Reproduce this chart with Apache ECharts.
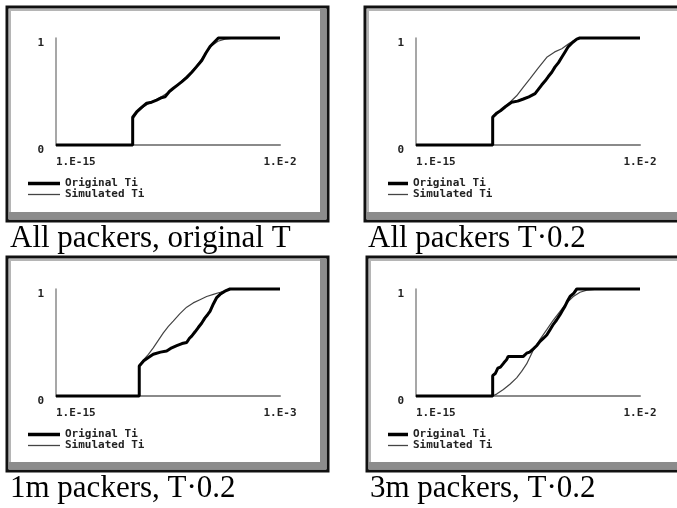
<!DOCTYPE html>
<html>
<head>
<meta charset="utf-8">
<script src="https://cdn.jsdelivr.net/npm/echarts@6/dist/echarts.min.js"></script>
<style>
  html, body { margin: 0; padding: 0; background: #fff; }
  #chart { width: 677px; height: 508px; }
</style>
</head>
<body>
<div id="chart"></div>
<script>
// x values are log10(T), y is the cumulative fraction
const captions = ['All packers, original T', 'All packers T\u00b70.2', '1m packers, T\u00b70.2', '3m packers, T\u00b70.2'];
const xMin = [-15, -15, -15, -15];
const xMax = [-2, -2, -3, -2];
const yTicks = [0, 1];

const allOrigTOriginal = [[-15,0],[-10.55,0],[-10.55,0.26],[-10.32,0.31],[-10.05,0.35],[-9.74,0.39],[-9.45,0.40],[-9.16,0.42],[-8.9,0.44],[-8.67,0.45],[-8.42,0.50],[-8.19,0.53],[-7.95,0.56],[-7.71,0.59],[-7.42,0.63],[-7.12,0.68],[-6.85,0.73],[-6.54,0.79],[-6.3,0.86],[-6.06,0.92],[-5.82,0.96],[-5.58,1],[-2,1]];
const allOrigTSimulated = [[-15,0],[-10.55,0],[-10.55,0.24],[-10.25,0.31],[-9.9,0.36],[-9.5,0.40],[-9.1,0.43],[-8.7,0.47],[-8.3,0.51],[-7.9,0.57],[-7.5,0.63],[-7.1,0.69],[-6.7,0.77],[-6.3,0.86],[-5.95,0.93],[-5.6,0.97],[-5.2,0.99],[-4.6,1],[-2,1]];

const allT02Original = [[-15,0],[-10.55,0],[-10.55,0.26],[-10.3,0.30],[-10.1,0.32],[-9.8,0.36],[-9.45,0.40],[-9.1,0.41],[-8.77,0.43],[-8.45,0.45],[-8.09,0.48],[-7.9,0.52],[-7.71,0.56],[-7.5,0.60],[-7.32,0.64],[-7.12,0.68],[-6.93,0.73],[-6.73,0.77],[-6.54,0.82],[-6.35,0.87],[-6.16,0.92],[-5.9,0.96],[-5.67,0.99],[-5.5,1],[-2,1]];
const allT02Simulated = [[-15,0],[-10.55,0],[-10.55,0.26],[-10.1,0.32],[-9.55,0.40],[-9.16,0.46],[-8.77,0.54],[-8.38,0.62],[-7.9,0.72],[-7.41,0.82],[-6.95,0.87],[-6.54,0.90],[-6.1,0.95],[-5.77,0.98],[-5.5,1],[-2,1]];

const m1T02Original = [[-15,0],[-10.54,0],[-10.54,0.28],[-10.3,0.33],[-10.05,0.36],[-9.79,0.39],[-9.4,0.41],[-9.07,0.42],[-8.8,0.45],[-8.53,0.47],[-8.25,0.49],[-8.0,0.50],[-7.85,0.54],[-7.73,0.56],[-7.55,0.60],[-7.38,0.64],[-7.2,0.68],[-7.02,0.73],[-6.88,0.76],[-6.75,0.79],[-6.57,0.86],[-6.39,0.92],[-6.21,0.95],[-5.95,0.98],[-5.68,1],[-3,1]];
const m1T02Simulated = [[-15,0],[-10.54,0],[-10.54,0.28],[-10.3,0.34],[-10.05,0.39],[-9.79,0.45],[-9.52,0.52],[-9.25,0.59],[-8.98,0.65],[-8.72,0.70],[-8.36,0.77],[-8.0,0.83],[-7.65,0.87],[-7.29,0.90],[-6.93,0.93],[-6.57,0.95],[-6.2,0.97],[-5.86,0.99],[-5.5,1],[-3,1]];

const m3T02Original = [[-15,0],[-10.55,0],[-10.55,0.19],[-10.4,0.21],[-10.25,0.26],[-10.1,0.27],[-9.9,0.31],[-9.74,0.34],[-9.65,0.37],[-8.77,0.37],[-8.58,0.40],[-8.4,0.41],[-8.19,0.44],[-8.0,0.47],[-7.8,0.51],[-7.6,0.54],[-7.41,0.57],[-7.22,0.62],[-7.03,0.67],[-6.84,0.71],[-6.64,0.76],[-6.5,0.80],[-6.35,0.84],[-6.2,0.89],[-6.06,0.93],[-5.85,0.96],[-5.67,1],[-2,1]];
const m3T02Simulated = [[-15,0],[-10.55,0],[-10.3,0.02],[-9.93,0.06],[-9.55,0.11],[-9.16,0.17],[-8.87,0.23],[-8.58,0.30],[-8.19,0.43],[-7.8,0.53],[-7.41,0.62],[-7.03,0.71],[-6.64,0.79],[-6.25,0.87],[-5.87,0.93],[-5.48,0.97],[-5.09,0.99],[-4.32,1],[-2,1]];

const originals = [allOrigTOriginal, allT02Original, m1T02Original, m3T02Original];
const simulateds = [allOrigTSimulated, allT02Simulated, m1T02Simulated, m3T02Simulated];

// layout of the four panels (right ones run off the page edge)
const panels = [
  { fx: 7,   fy: 7,   fw: 321, fh: 214, gx: 56,  gy: 38,  lx: 28,  lw: 32 },
  { fx: 365, fy: 7,   fw: 400, fh: 214, gx: 416, gy: 38,  lx: 388, lw: 20 },
  { fx: 7,   fy: 257, fw: 321, fh: 214, gx: 56,  gy: 289, lx: 28,  lw: 32 },
  { fx: 367, fy: 257, fw: 400, fh: 214, gx: 416, gy: 289, lx: 388, lw: 20 }
];

const smallFont = {
  fontFamily: 'DejaVu Sans Mono',
  fontWeight: 'bold',
  fontSize: 11,
  color: '#222'
};

const grid = [], xAxis = [], yAxis = [], series = [], legend = [], graphic = [];

panels.forEach((p, i) => {
  grid.push({ left: p.gx, top: p.gy, width: 224, height: 107 });
  xAxis.push({
    type: 'value',
    gridIndex: i,
    min: xMin[i],
    max: xMax[i],
    splitLine: { show: false },
    axisTick: { show: false },
    axisLine: { lineStyle: { color: '#8a8a8a', width: 2 } },
    axisLabel: Object.assign({
      customValues: [xMin[i], xMax[i]],
      margin: 12,
      alignMinLabel: 'left',
      alignMaxLabel: 'center',
      formatter: v => '1.E' + v
    }, smallFont)
  });
  yAxis.push({
    type: 'value',
    gridIndex: i,
    min: 0,
    max: 1,
    interval: 1,
    splitLine: { show: false },
    axisTick: { show: false },
    axisLine: { show: true, lineStyle: { color: '#8a8a8a', width: 1.5 } },
    axisLabel: Object.assign({
      margin: 12,
      verticalAlign: 'top',
      formatter: v => yTicks.indexOf(v) >= 0 ? String(v) : ''
    }, smallFont)
  });
  series.push({
    name: 'Original Ti',
    type: 'line',
    xAxisIndex: i,
    yAxisIndex: i,
    data: originals[i],
    symbol: 'none',
    clip: false,
    z: 4,
    lineStyle: { color: '#000', width: 3 },
    itemStyle: { color: '#000' }
  });
  series.push({
    name: 'Simulated Ti',
    type: 'line',
    xAxisIndex: i,
    yAxisIndex: i,
    data: simulateds[i],
    symbol: 'none',
    clip: false,
    z: 3,
    lineStyle: { color: '#444', width: 1.2 },
    itemStyle: { color: '#444' }
  });
  legend.push({
    data: [
      { name: 'Original Ti', icon: 'path://M0,0H' + p.lw + 'V3.5H0Z', itemStyle: { color: '#000' } },
      { name: 'Simulated Ti', icon: 'path://M0,0H' + p.lw + 'V1.3H0Z', itemStyle: { color: '#444' } }
    ],
    symbolKeepAspect: true,
    orient: 'vertical',
    left: p.lx,
    top: p.gy + 140,
    itemWidth: p.lw,
    itemHeight: 10,
    itemGap: 0,
    padding: 0,
    selectedMode: false,
    textStyle: smallFont
  });

  // panel frame with bevel
  graphic.push(
    { type: 'rect', z: -10, shape: { x: p.fx, y: p.fy, width: p.fw, height: p.fh },
      style: { fill: '#fff', stroke: '#111', lineWidth: 3 } },
    { type: 'rect', z: -9, shape: { x: p.fx + 2, y: p.fy + p.fh - 9, width: p.fw - 4, height: 7 },
      style: { fill: '#8c8c8c' } },
    { type: 'rect', z: -9, shape: { x: p.fx + p.fw - 8, y: p.fy + 2, width: 6, height: p.fh - 4 },
      style: { fill: '#8c8c8c' } },
    { type: 'rect', z: -9, shape: { x: p.fx + 2, y: p.fy + 2, width: p.fw - 10, height: 2 },
      style: { fill: '#b5b5b5' } },
    { type: 'rect', z: -9, shape: { x: p.fx + 2, y: p.fy + 2, width: 2, height: p.fh - 11 },
      style: { fill: '#b5b5b5' } },
    { type: 'text', z: 5, x: p.fx + 3, y: p.fy + p.fh + 18,
      style: { text: captions[i], font: '31px "Liberation Serif"', fill: '#000', verticalAlign: 'middle' } }
  );
});

const chart = echarts.init(document.getElementById('chart'));
chart.setOption({
  animation: false,
  backgroundColor: '#fff',
  grid: grid,
  xAxis: xAxis,
  yAxis: yAxis,
  legend: legend,
  graphic: graphic,
  series: series
});
</script>
</body>
</html>
